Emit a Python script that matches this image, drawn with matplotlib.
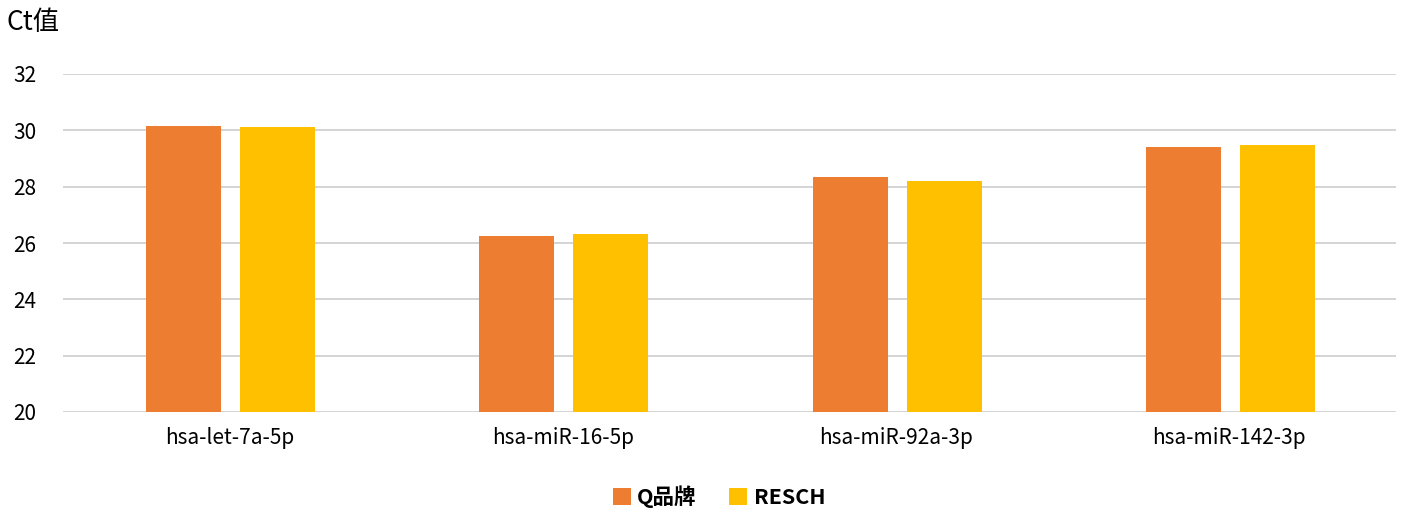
import matplotlib
matplotlib.use("Agg")
import matplotlib.pyplot as plt
import numpy as np

plt.rcParams['font.family'] = ['Noto Sans CJK SC', 'DejaVu Sans']

categories = ["hsa-let-7a-5p", "hsa-miR-16-5p", "hsa-miR-92a-3p", "hsa-miR-142-3p"]
q_brand = [30.15, 26.25, 28.35, 29.40]
resch = [30.11, 26.32, 28.21, 29.47]
series_names = ["Q品牌", "RESCH"]
colors = ["#ED7D31", "#FFC000"]
yticks = [20, 22, 24, 26, 28, 30, 32]

fig = plt.figure(figsize=(14.08, 5.15), dpi=100)
ax = fig.add_axes([63 / 1408, 1 - 412 / 515, (1396 - 63) / 1408, (412 - 74) / 515])

x = np.arange(len(categories))
w = 0.225
off = 0.141
ax.bar(x - off + 0.003, q_brand, w, color=colors[0], label=series_names[0], zorder=3)
ax.bar(x + off + 0.003, resch, w, color=colors[1], label=series_names[1], zorder=3)

ax.set_xlim(-0.5, len(categories) - 0.5)
ax.set_ylim(20, 32)
ax.set_yticks(yticks)
ax.set_yticklabels([str(v) for v in yticks], fontsize=15)
ax.set_xticks(x)
ax.set_xticklabels(categories, fontsize=15)
ax.tick_params(length=0)
ax.tick_params(axis='y', pad=19)
ax.tick_params(axis='x', pad=11)
ax.grid(axis='y', color='#D4D4D4', lw=1.4, zorder=0)
for s in ax.spines.values():
    s.set_visible(False)

fig.text(7 / 1408, 1 - 22 / 515, "Ct值", fontsize=19, va='center', ha='left')

leg = fig.legend(loc='center', bbox_to_anchor=(719 / 1408, 1 - 497 / 515), ncol=2,
                 frameon=False, handlelength=0.85, handleheight=0.85, handletextpad=0.3,
                 columnspacing=1.5, prop={'size': 15.5, 'weight': 'bold'})

fig.savefig("out.png", dpi=100)
